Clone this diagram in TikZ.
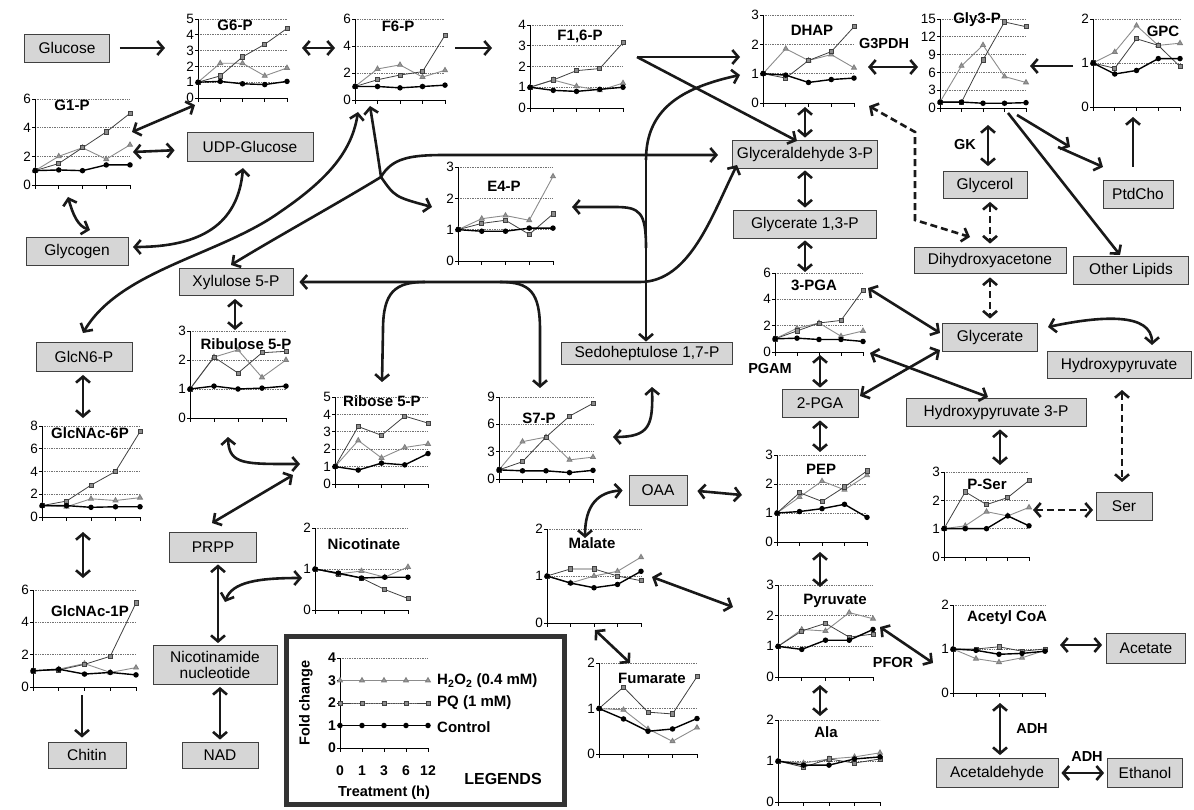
\documentclass[tikz,border=0pt]{standalone}
\usepackage{fontspec}
\setmainfont{Liberation Sans}
\usetikzlibrary{arrows.meta,plotmarks}

\newcounter{chartno}
% one time-course series: five values at 0,1,3,6,12 h
\newcommand{\ser}[6]{\draw[#1] plot coordinates {(0,#2) (1,#3) (2,#4) (3,#5) (4,#6)};}
% chart: left, bottom, width, height, ymax, step, control, PQ, H2O2
\newcommand{\tschart}[9]{%
  \stepcounter{chartno}%
  \begin{scope}[shift={(#1,#2)},x={(#3pt/4,0pt)},y={(0pt,#4pt/#5)}]
    \pgfmathtruncatemacro\nlev{#5/#6}
    \foreach \k in {1,...,\nlev} \draw[gridl] (0,{\k*#6}) -- (4,{\k*#6});
    \foreach \k in {0,...,\nlev}{
      \pgfmathtruncatemacro\lab{\k*#6}
      \draw[axis] (0,{\k*#6}) -- ++(-3pt,0);
      \node[ticklab] (c\arabic{chartno}t\k) at (0,{\k*#6}) {\lab};
    }
    \foreach \i in {0,...,4} \draw[axis] (\i,0) -- ++(0,-4pt);
    \draw[axis] (0,#5) -- (0,0) -- (4,0);
    \ser{hp}#9
    \ser{pq}#8
    \ser{ctrl}#7
  \end{scope}}

\tikzset{
  mbox/.style={draw=black!75, line width=0.8pt, fill=black!16, inner sep=1pt,
    minimum height=28pt, font=\fontsize{15.5}{16.5}\selectfont},
  ctitle/.style={font=\fontsize{15}{16}\selectfont\bfseries, inner sep=1pt},
  ticklab/.style={anchor=east, xshift=-3pt, inner sep=1pt, font=\fontsize{13.5}{15}\selectfont},
  enz/.style={font=\fontsize{14.5}{16}\selectfont\bfseries, inner sep=1pt},
  legtxt/.style={font=\fontsize{15}{16}\selectfont\bfseries, inner sep=1pt},
  gridl/.style={black!55, densely dotted, line width=0.7pt},
  axis/.style={black, line width=0.8pt},
  ctrl/.style={black, line width=1.4pt, mark=*, mark size=2pt},
  pq/.style={black!75, line width=0.8pt, mark=square*, mark size=2.1pt,
    mark options={fill=black!45, draw=black!75, solid}},
  hp/.style={black!45, line width=0.9pt, mark=triangle*, mark size=2.8pt,
    mark options={fill=black!40, draw=black!50, solid}},
  rx/.style={line width=2.6pt, black!90},
  rxd/.style={rx, dash pattern=on 7pt off 4pt},
  legframe/.style={draw=black!80, line width=5pt},
  >={Straight Barb[length=6pt,width=14pt]},
}

\begin{document}
\begin{tikzpicture}[x=1pt,y=-1pt]
\useasboundingbox (0,0) rectangle (1194,810);

% metabolite boxes
\node[mbox, minimum width=85pt] (glc) at (67,48) {Glucose};
\node[mbox, minimum width=126pt, minimum height=29pt] (udpg) at (250,147) {UDP-Glucose};
\node[mbox, minimum width=102pt] (glyc) at (77,251) {Glycogen};
\node[mbox, minimum width=114pt, minimum height=27pt] (xu5p) at (236,282) {Xylulose 5-P};
\node[mbox, minimum width=96pt, minimum height=29pt] (glcn6p) at (84,357) {GlcN6-P};
\node[mbox, minimum width=145pt] (gap) at (805,154) {Glyceraldehyde 3-P};
\node[mbox, minimum width=143pt] (bpg) at (805,224) {Glycerate 1,3-P};
\node[mbox, minimum width=84pt, minimum height=27pt] (glol) at (985,185) {Glycerol};
\node[mbox, minimum width=152pt, minimum height=26pt] (dha) at (990,260) {Dihydroxyacetone};
\node[mbox, minimum width=70pt] (pc) at (1138,194) {PtdCho};
\node[mbox, minimum width=115pt] (olip) at (1131,270) {Other Lipids};
\node[mbox, minimum width=95pt] (glyt) at (990,337) {Glycerate};
\node[mbox, minimum width=144pt, minimum height=27pt] (hpyr) at (1119,365) {Hydroxypyruvate};
\node[mbox, minimum width=180pt] (hp3p) at (996,412) {Hydroxypyruvate 3-P};
\node[mbox, minimum width=76pt] (pga2) at (820,403) {2-PGA};
\node[mbox, minimum width=56pt] (ser) at (1124,506) {Ser};
\node[mbox, minimum width=171pt, minimum height=22pt] (sbp) at (647,353) {Sedoheptulose 1,7-P};
\node[mbox, minimum width=58pt, minimum height=30pt] (oaa) at (658,490) {OAA};
\node[mbox, minimum width=87pt, minimum height=30pt] (prpp) at (213,547) {PRPP};
\node[mbox, minimum width=124pt, minimum height=39pt, align=center] (nn) at (215,665) {Nicotinamide\\nucleotide};
\node[mbox, minimum width=78pt, minimum height=26pt] (chitin) at (87,755) {Chitin};
\node[mbox, minimum width=76pt, minimum height=26pt] (nad) at (220,755) {NAD};
\node[mbox, minimum width=79pt, minimum height=30pt] (acet) at (1146,648) {Acetate};
\node[mbox, minimum width=122pt, minimum height=29pt] (acald) at (997,773) {Acetaldehyde};
\node[mbox, minimum width=75pt, minimum height=29pt] (etoh) at (1145,773) {Ethanol};

% time-course charts
\tschart{198}{98}{89}{79}{5}{1}{{1}{1.05}{.9}{.85}{1.05}}{{1}{1.4}{2.6}{3.4}{4.4}}{{1}{2.2}{2.2}{1.4}{1.9}}
\node[ctitle] (tg6p) at (235,25) {G6-P};
\tschart{355}{100}{90}{81}{6}{2}{{1}{1}{.9}{1}{1.1}}{{1}{1.5}{1.85}{2.1}{4.8}}{{1}{2.3}{2.6}{1.7}{2.2}}
\node[ctitle] (tf6p) at (398,26) {F6-P};
\tschart{530}{108}{93}{83}{4}{1}{{1}{.85}{.8}{.9}{1}}{{1}{1.35}{1.8}{1.9}{3.15}}{{1}{1.35}{1.05}{.85}{1.2}}
\node[ctitle] (tfbp) at (580,36) {F1,6-P};
\tschart{763}{103}{91}{88}{3}{1}{{1}{.95}{.7}{.8}{.85}}{{1}{.85}{1.45}{1.75}{2.6}}{{1}{1.85}{1.45}{1.65}{1.2}}
\node[ctitle] (tdhap) at (812,30) {DHAP};
\tschart{940}{108}{86}{89}{15}{3}{{1}{1}{.8}{.8}{.9}}{{1}{1}{8.1}{14.5}{13.7}}{{1}{7.1}{10.6}{5.3}{4.3}}
\node[ctitle] (tgly3p) at (977,20) {Gly3-P};
\tschart{1093}{107}{87}{88}{2}{1}{{1}{.75}{.83}{1.1}{1.1}}{{1}{.88}{1.55}{1.4}{.92}}{{1}{1.25}{1.85}{1.4}{1.45}}
\node[ctitle] (tgpc) at (1163,31) {GPC};
\tschart{35}{185}{95}{86}{6}{2}{{1}{1.05}{1}{1.4}{1.4}}{{1}{1.5}{2.6}{3.7}{5}}{{1}{2}{2.6}{1.8}{2.8}}
\node[ctitle] (tg1p) at (72,105) {G1-P};
\tschart{458}{261}{95}{94}{3}{1}{{1}{.95}{.95}{1.05}{1.05}}{{1}{1.2}{1.3}{.85}{1.5}}{{1}{1.35}{1.45}{1.3}{2.7}}
\node[ctitle] (te4p) at (504,186) {E4-P};
\tschart{775}{352}{88}{79}{6}{2}{{1}{1.05}{.95}{.95}{.8}}{{1}{1.6}{2.2}{2.4}{4.7}}{{1}{1.8}{2.2}{1.2}{1.6}}
\node[ctitle] (tpga3) at (814,285) {3-PGA};
\tschart{190}{418}{96}{87}{3}{1}{{1}{1.1}{1}{1.03}{1.1}}{{1}{2.1}{1.55}{2.25}{2.3}}{{1}{2.1}{2.35}{1.4}{2}}
\node[ctitle] (tru5p) at (246,344) {Ribulose 5-P};
\tschart{335}{484}{93}{87}{5}{1}{{1}{.8}{1.2}{1.1}{1.75}}{{1}{3.3}{2.8}{3.9}{3.5}}{{1}{2.5}{1.5}{2.1}{2.3}}
\node[ctitle] (tr5p) at (382,401) {Ribose 5-P};
\tschart{42}{517}{98}{91}{8}{2}{{1}{1}{.85}{.9}{.9}}{{1}{1.4}{2.8}{4}{7.5}}{{1}{.9}{1.6}{1.45}{1.7}}
\node[ctitle] (tgnac6) at (90,433) {GlcNAc-6P};
\tschart{499}{479}{94}{82}{9}{3}{{1}{.9}{.9}{.7}{.95}}{{1}{1.9}{4.6}{6.9}{8.3}}{{1}{4.1}{4.6}{2.1}{2.4}}
\node[ctitle] (ts7p) at (539,418) {S7-P};
\tschart{777}{542}{90}{87}{3}{1}{{1}{1.05}{1.15}{1.3}{.85}}{{1}{1.7}{1.4}{1.9}{2.45}}{{1}{1.55}{2.1}{1.8}{2.3}}
\node[ctitle] (tpep) at (821,469) {PEP};
\tschart{944}{557}{85}{85}{3}{1}{{1}{1}{1}{1.45}{1.1}}{{1}{2.3}{1.85}{2.1}{2.7}}{{1}{1.1}{1.6}{1.45}{1.75}}
\node[ctitle] (tpser) at (987,484) {P-Ser};
\tschart{315}{610}{93}{82}{2}{1}{{1}{.9}{.78}{.8}{.8}}{{1}{.88}{.78}{.5}{.28}}{{1}{.88}{.95}{.8}{1.05}}
\node[ctitle] (tnic) at (364,544) {Nicotinate};
\tschart{547}{623}{94}{94}{2}{1}{{1}{.85}{.75}{.82}{1.1}}{{1}{1.15}{1.15}{1}{.9}}{{1}{.85}{1}{1.1}{1.4}}
\node[ctitle] (tmal) at (592,543) {Malate};
\tschart{599}{754}{98}{91}{2}{1}{{1}{.77}{.5}{.55}{.78}}{{1}{1.47}{.92}{.88}{1.7}}{{1}{.97}{.55}{.28}{.58}}
\node[ctitle] (tfum) at (652,678) {Fumarate};
\tschart{778}{677}{95}{92}{3}{1}{{1}{.9}{1.2}{1.2}{1.55}}{{1}{1.5}{1.75}{1.3}{1.4}}{{1}{1.55}{1.5}{2.1}{1.9}}
\node[ctitle] (tpyr) at (835,601) {Pyruvate};
\tschart{778}{802}{102}{82}{2}{1}{{1}{.9}{.9}{1.05}{1.1}}{{1}{.85}{1.05}{.95}{1.05}}{{1}{.95}{1.05}{1.1}{1.2}}
\node[ctitle] (tala) at (826,732) {Ala};
\tschart{953}{693}{92}{88}{2}{1}{{1}{.97}{.88}{.9}{.95}}{{1}{1}{1.05}{.95}{1}}{{1}{.78}{.7}{.8}{.97}}
\node[ctitle] (taccoa) at (1007,618) {Acetyl CoA};
\tschart{33}{687}{103}{97}{6}{2}{{1}{1.1}{.8}{.9}{.75}}{{1}{1.05}{1.4}{1.9}{5.2}}{{1}{1.1}{1.45}{.9}{1.2}}
\node[ctitle] (tgnac1) at (90,611) {GlcNAc-1P};

% enzyme labels
\node[enz] (g3pdh) at (884,44) {G3PDH};
\node[enz] (gk) at (965,145) {GK};
\node[enz] (pgam) at (770,369) {PGAM};
\node[enz] (pfor) at (893,663) {PFOR};
\node[enz] (adha) at (1032,729) {ADH};
\node[enz] (adhb) at (1087,757) {ADH};

% arrow ends beside the charts
\foreach \n/\x/\y in {
  g6pw/165/48, g6pe/302/48, f6pw/335/48, f6pe/455/48, fbpw/492/48,
  fbpe/637/57, dhapw/740/57, gapne/797/141, dhapl/740/75, ald/646/160,
  e4pj/646/248, e4pe/572/207, tka/381/177, f6pb/370/106, f6pc/358/112,
  e4pw/432/207, xu5pn/231/265, gapw/718/155, tkb/640/282, gapsw/737/165,
  s7pj/500/282, s7pt/540/388, r5pj/425/282, r5pt/382/382, glcn6pn/83/333,
  glyce/133/247, udpgs/243/168, g1pne/132/132, g6psw/195/105, g1pe/133/152,
  g1pb/68/197, glycn/90/230, dhape/868/67, gly3pw/918/67, gly3pe/1030/66,
  gpcw/1073/66, gly3pa/1017/115, pcma/1070/147, pcmb/1058/147, pcin/1103/167,
  gly3pb/1008/113, olipn/1120/255, gpcb/1133/117, gly3pc/988/125,
  dhapr/869/106, dhaka/915/132, dhakb/915/220, dhain/970/237, dhapb/805/107,
  pga3t/805/272, pga3r/868/288, glytw/940/333, glytsw/940/350, pga2ne/860/396,
  pga3b/870/353, hp3pn/988/397, pga3s/820/355, pepn/820/452, glyte/1048/327,
  hpyrn/1152/345, psern/1000/465, hpyrs/1122/390, sern/1122/482,
  psere/1033/510, serw/1093/510, s7pe/613/437, sbps/652/387, maln/585/538,
  pepw/742/495, pepb/820/552, pyrt/820/587, pyrb/820/685, alat/820/716,
  pyre/880/627, accw/933/663, acce/1060/645, accb/1000/703, male/652/577,
  pyrw/733/607, malb/595/630, fumn/630/663, ru5pb/228/437, r5pw/300/464,
  r5pb/293/475, prppt/212/523, ru5pt/235/330, gnac6t/83/418, gnac6b/83/532,
  gnac1t/83/578, gnac1b/82/695, nicw/302/578, nnj/225/602}
  \coordinate (\n) at (\x,\y);

% glycolysis and sugar phosphates
\draw[rx,->,shorten <=10pt] (glc) -- (g6pw);
\draw[rx,<->] (g6pe) -- (f6pw);
\draw[rx,->] (f6pe) -- (fbpw);
\draw[rx,->] (fbpe) -- (dhapw);
\draw[rx,->] (fbpe) -- (gapne);
\draw[rx,<->] (g1pne) -- (g6psw);
\draw[rx,<->,shorten >=12pt] (g1pe) -- (udpg);
\draw[rx,<->] (g1pb) .. controls (73,215) and (78,226) .. (glycn);
\draw[rx,<->] (glyce) .. controls (200,247) and (238,225) .. (udpgs);
\draw[rx,<->] (glcn6pn) .. controls (120,270) and (220,255) .. (280,212)
  .. controls (330,178) and (352,150) .. (f6pc);
\draw[rx,->] (tka) .. controls (392,158) and (410,155) .. (445,155) -- (gapw);
\draw[rx,->] (tka) .. controls (377,150) .. (f6pb);
\draw[rx,->] (tka) .. controls (395,197) .. (e4pw);
\draw[rx,->] (tka) .. controls (335,205) and (275,238) .. (xu5pn);
\draw[rx,->] (ald) .. controls (646,110) and (680,88) .. (dhapl);
\draw[rx,->] (ald) -- (ald |- sbp.north);
\draw[rx,->] (e4pj) .. controls (646,212) and (640,207) .. (615,207) -- (e4pe);
\draw[rx,<->,shorten <=6pt] (xu5p.east) -- (tkb) .. controls (690,282) and (712,215) .. (gapsw);
\draw[rx,->] (s7pj) .. controls (530,282) and (540,292) .. (540,330) -- (s7pt);
\draw[rx,->] (r5pj) .. controls (395,282) and (383,292) .. (383,330) -- (r5pt);
\draw[rx,<->] (s7pe) .. controls (650,437) and (653,425) .. (sbps);
\draw[rx,<->,shorten <=3pt] (xu5p.south -| ru5pt) -- (ru5pt);
\draw[rx,<->] (ru5pb) .. controls (229,465) and (245,464) .. (r5pw);
\draw[rx,<->] (r5pb) -- (prppt);
\draw[rx,<->,shorten <=3pt] (glcn6p.south -| gnac6t) -- (gnac6t);
\draw[rx,<->] (gnac6b) -- (gnac1t);
\draw[rx,->,shorten >=4pt] (gnac1b) -- (chitin.north -| gnac1b);
\draw[rx,<->,shorten <=2pt,shorten >=2pt] ([xshift=5pt]prpp.south) -- ([xshift=3pt]nn.north);
\draw[rx,<->,shorten <=2pt,shorten >=2pt] (nn.south -| nad.north) -- (nad.north);
\draw[rx,<->] (nnj) .. controls (232,582) and (258,578) .. (nicw);

% glycerol and lipids
\draw[rx,<->] (dhape) -- (gly3pw);
\draw[rx,->] (gpcw) -- (gly3pe);
\draw[rx,->] (gly3pa) -- (pcma);
\draw[rx,->] (pcmb) -- (pcin);
\draw[rx,->] (gly3pb) -- (olipn);
\draw[rx,->,shorten <=13pt] (pc.north -| gpcb) -- (gpcb);
\draw[rx,<->,shorten >=5pt] (gly3pc) -- (glol.north -| gly3pc);
\draw[rxd,<->,shorten <=3pt,shorten >=3pt] (glol.south -| dha.north) -- (dha.north);
\draw[rxd,<->] (dhapr) -- (dhaka) -- (dhakb) -- (dhain);
\draw[rx,<->,shorten >=2pt] (dhapb) -- (gap.north -| dhapb);
\draw[rx,<->,shorten <=2pt,shorten >=2pt] (gap.south) -- (bpg.north);
\draw[rx,<->,shorten <=2pt] (bpg.south) -- (pga3t);
\draw[rxd,<->,shorten <=4pt,shorten >=4pt] (dha.south) -- (glyt.north);

% lower glycolysis, serine and fermentation
\draw[rx,<->] (pga3r) -- (glytw);
\draw[rx,<->] (glytsw) -- (pga2ne);
\draw[rx,<->] (pga3b) -- (hp3pn);
\draw[rx,<->,shorten >=1pt] (pga3s) -- (pga2.north -| pga3s);
\draw[rx,<->,shorten <=3pt] (pga2.south -| pepn) -- (pepn);
\draw[rx,<->] (glyte) .. controls (1100,316) and (1152,312) .. (hpyrn);
\draw[rx,<->,shorten <=3pt] (hp3p.south -| psern) -- (psern);
\draw[rxd,<->] (hpyrs) -- (sern);
\draw[rxd,<->] (psere) -- (serw);
\draw[rx,<->,shorten <=6pt] (oaa.west) .. controls (598,492) and (585,505) .. (maln);
\draw[rx,<->,shorten <=10pt] (oaa.east) -- (pepw);
\draw[rx,<->] (pepb) -- (pyrt);
\draw[rx,<->] (pyrb) -- (alat);
\draw[rx,<->] (pyre) -- (accw);
\draw[rx,<->,shorten >=4pt] (acce) -- (acet.west |- acce);
\draw[rx,<->,shorten >=3pt] (accb) -- (acald.north -| accb);
\draw[rx,<->,shorten <=3pt,shorten >=3pt] (acald.east) -- (etoh.west);
\draw[rx,<->] (male) -- (pyrw);
\draw[rx,<->] (malb) -- (fumn);

% legend
\draw[legframe] (286,636) rectangle (564,804);
\begin{scope}[ticklab/.append style={font=\fontsize{14}{15}\selectfont\bfseries}]
\tschart{340}{748}{88}{90}{4}{1}{{1}{1}{1}{1}{1}}{{2}{2}{2}{2}{2}}{{3}{3}{3}{3}{3}}
\end{scope}
\foreach \t [count=\i from 0] in {0,1,3,6,12}
  \node[legtxt, font=\fontsize{14}{15}\selectfont\bfseries] (lt\i) at (340+\i*22,771) {\t};
\node[legtxt, font=\fontsize{14.5}{15}\selectfont\bfseries, rotate=90] (foldc) at (306,703) {Fold change};
\node[legtxt, font=\fontsize{14.5}{15}\selectfont\bfseries] (treat) at (384,793) {Treatment (h)};
\node[legtxt, anchor=west] (lhp) at (436,681) {H\textsubscript{2}O\textsubscript{2} (0.4 mM)};
\node[legtxt, anchor=west] (lpq) at (436,703) {PQ (1 mM)};
\node[legtxt, anchor=west] (lctl) at (436,727) {Control};
\node[legtxt, font=\fontsize{16}{17}\selectfont\bfseries] (legs) at (503,779) {LEGENDS};
\end{tikzpicture}
\end{document}
